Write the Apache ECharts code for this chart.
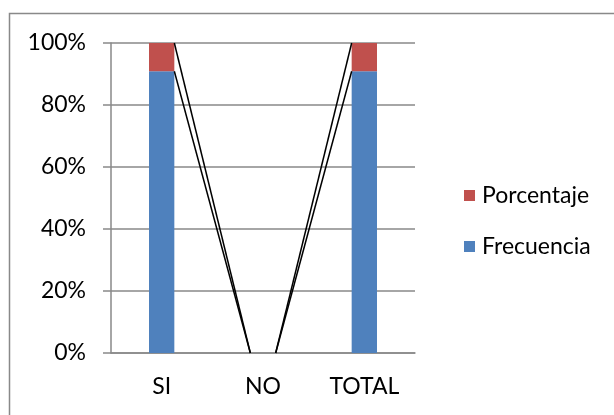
<!DOCTYPE html>
<html>
<head>
<meta charset="utf-8">
<script src="https://cdn.jsdelivr.net/npm/echarts@6/dist/echarts.min.js"></script>
<style>html,body{margin:0;padding:0;background:#fff;}#c{width:614px;height:415px;}</style>
</head>
<body>
<div id="c"></div>
<script>
const categories = ['SI', 'NO', 'TOTAL'];
const frecuencia = [90.9, 0, 90.9];
const porcentaje = [9.1, 0, 9.1];
const yTickLabels = ['0%', '20%', '40%', '60%', '80%', '100%'];

const totals = categories.map((_, i) => frecuencia[i] + porcentaje[i]);
const fShare = frecuencia.map((v, i) => totals[i] ? v / totals[i] * 100 : 0);
const pShare = porcentaje.map((v, i) => totals[i] ? v / totals[i] * 100 : 0);
const fCum = fShare.slice();
const pCum = fShare.map((v, i) => v + pShare[i]);
const lineData = [];
for (let i = 0; i < categories.length - 1; i++) {
  lineData.push([i, fCum[i], pCum[i], fCum[i + 1], pCum[i + 1]]);
}

const FONT = 'Lato';
const FS = 23;
const chart = echarts.init(document.getElementById('c'));
chart.setOption({
  animation: false,
  backgroundColor: '#fff',
  graphic: [{
    type: 'rect', silent: true,
    shape: { x: 9.5, y: 13.5, width: 640, height: 440 },
    style: { fill: 'none', stroke: '#898989', lineWidth: 1.5 }
  }],
  grid: { left: 111, right: 199, top: 43, bottom: 62 },
  legend: {
    orient: 'vertical', left: 459, top: 179,
    data: ['Porcentaje', 'Frecuencia'],
    icon: 'rect', itemWidth: 11, itemHeight: 11, itemGap: 28,
    textStyle: { fontFamily: FONT, fontSize: FS, color: '#000', lineHeight: FS, padding: [0, 0, 0, 2] }
  },
  xAxis: {
    type: 'category', data: categories,
    axisLine: { lineStyle: { color: '#898989', width: 1.5 } },
    axisTick: { show: false },
    axisLabel: { fontFamily: FONT, fontSize: FS, color: '#000', margin: 22 }
  },
  yAxis: {
    type: 'value', min: 0, max: 100, interval: 20,
    axisLine: { show: true, lineStyle: { color: '#898989', width: 1.5 } },
    axisTick: { show: true, length: 8, lineStyle: { color: '#898989', width: 1.5 } },
    splitLine: { lineStyle: { color: '#898989', width: 1.5 } },
    axisLabel: {
      fontFamily: FONT, fontSize: FS, color: '#000', margin: 25,
      formatter: v => yTickLabels[Math.round(v / 20)]
    }
  },
  series: [
    { name: 'Frecuencia', type: 'bar', stack: 's', data: fShare, barWidth: '25%', itemStyle: { color: '#4F81BD' } },
    { name: 'Porcentaje', type: 'bar', stack: 's', data: pShare, barWidth: '25%', itemStyle: { color: '#C0504D' } },
    {
      name: 'lines', type: 'custom', data: lineData, z: 5, silent: true,
      encode: { x: 0, y: [1, 2, 3, 4] },
      renderItem: function (params, api) {
        const i = api.value(0);
        const half = api.size([1, 0])[0] * 0.25 / 2;
        const x1 = api.coord([i, 0])[0] + half;
        const x2 = api.coord([i + 1, 0])[0] - half;
        const children = [];
        [[1, 3], [2, 4]].forEach(([a, b]) => {
          children.push({
            type: 'line',
            shape: { x1: x1, y1: api.coord([i, api.value(a)])[1], x2: x2, y2: api.coord([i + 1, api.value(b)])[1] },
            style: { stroke: '#000', lineWidth: 1.5 }
          });
        });
        return { type: 'group', children: children };
      }
    }
  ]
});
</script>
</body>
</html>
